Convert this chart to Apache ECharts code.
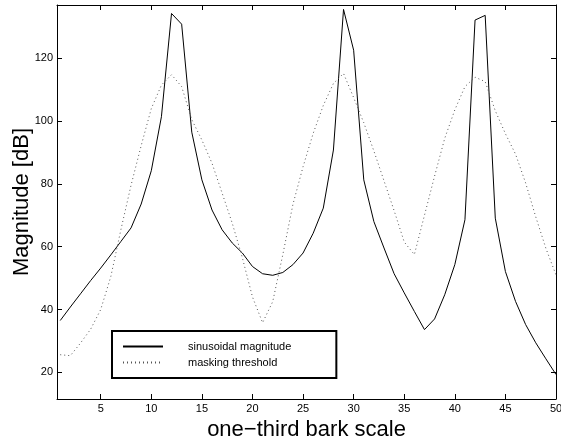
<!DOCTYPE html>
<html>
<head>
<meta charset="utf-8">
<script src="https://cdn.jsdelivr.net/npm/echarts@6/dist/echarts.min.js"></script>
<style>
html,body{margin:0;padding:0;background:#fff;}
#chart{width:561px;height:442px;}
</style>
</head>
<body>
<div id="chart"></div>
<script>
var bark = [1,2,3,4,5,6,7,8,9,10,11,12,13,14,15,16,17,18,19,20,21,22,23,24,25,26,27,28,29,30,31,32,33,34,35,36,37,38,39,40,41,42,43,44,45,46,47,48,49,50];
var sinusoidalMagnitude = [36.5,40.8,45.0,49.2,53.2,57.4,61.7,66.0,73.6,84.2,101.4,134.3,130.9,96.5,81.3,71.7,65.4,61.2,58.0,53.7,51.4,50.9,51.8,54.3,58.0,64.3,72.3,90.8,135.6,122.6,81.3,68.0,59.6,51.4,45.3,39.4,33.6,37.0,44.7,54.3,68.6,132.2,133.7,69.1,52.1,42.6,35.2,29.4,24.3,19.3];
var maskingThreshold = [25.6,25.3,29.3,33.7,40.0,50.5,65.5,79.6,92.2,104.0,111.5,114.8,111.0,100.5,94.0,86.6,77.1,67.5,56.5,44.0,35.8,42.5,57.5,73.5,85.5,96.1,105.0,112.0,115.2,107.5,99.5,90.5,81.0,71.5,61.5,57.5,70.0,82.5,94.5,103.6,111.0,114.0,112.6,103.3,96.0,89.5,80.3,69.5,59.5,51.0];
var xTicks = [5,10,15,20,25,30,35,40,45,50];
var yTicks = [20,40,60,80,100,120];
var seriesNames = ['sinusoidal magnitude','masking threshold'];
var xTitle = 'one\u2212third bark scale';
var yTitle = 'Magnitude [dB]';

var font = 'Liberation Sans, Arial, Helvetica, sans-serif';
function zip(xs, ys){ return xs.map(function(x,i){ return [x, ys[i]]; }); }

var axisLine = {show:true, lineStyle:{color:'#000', width:1}};
function xAx(pos, labels){
  return {
    type:'value', min:0.68, max:50, position:pos, gridIndex:0,
    axisLine:axisLine,
    axisTick:{show:true, inside:true, length:5, customValues:xTicks, lineStyle:{color:'#000'}},
    axisLabel:{show:labels, customValues:xTicks, margin:4, color:'#000', fontSize:11, fontFamily:font},
    splitLine:{show:false},
    name: labels ? xTitle : '', nameLocation:'middle', nameGap:20, nameMoveOverlap:false,
    nameTextStyle:{color:'#000', fontSize:22, fontFamily:font}
  };
}
function yAx(pos, labels){
  return {
    type:'value', min:11.5, max:137, position:pos, gridIndex:0,
    axisLine:axisLine,
    axisTick:{show:true, inside:true, length:5, customValues:yTicks, lineStyle:{color:'#000'}},
    axisLabel:{show:labels, customValues:yTicks, margin:4, color:'#000', fontSize:11, fontFamily:font},
    splitLine:{show:false},
    name: labels ? yTitle : '', nameLocation:'middle', nameGap:24, nameMoveOverlap:false,
    nameTextStyle:{color:'#000', fontSize:22, fontFamily:font}
  };
}

var chart = echarts.init(document.getElementById('chart'), null, {renderer:'canvas'});
chart.setOption({
  animation:false,
  backgroundColor:'#fff',
  grid:{left:57, top:5, right:5, bottom:43, containLabel:false, outerBoundsMode:'none'},
  xAxis:[xAx('bottom', true), xAx('top', false)],
  yAxis:[yAx('left', true), yAx('right', false)],
  legend:{
    data:seriesNames, orient:'vertical', left:112, top:331,
    padding:[10,45,10,10], itemGap:5, itemWidth:40, itemHeight:10,
    backgroundColor:'#fff', borderColor:'#000', borderWidth:2, borderRadius:0,
    itemStyle:{opacity:0},
    textStyle:{color:'#000', fontSize:11, fontFamily:font, padding:[0,0,0,20]},
    selectedMode:false
  },
  series:[
    {name:seriesNames[0], type:'line', xAxisIndex:0, yAxisIndex:0, data:zip(bark, sinusoidalMagnitude),
     symbol:'none', lineStyle:{color:'#000', width:1}, itemStyle:{color:'#000'}},
    {name:seriesNames[1], type:'line', xAxisIndex:0, yAxisIndex:0, data:zip(bark, maskingThreshold),
     symbol:'none', lineStyle:{color:'#555', width:1, type:[1,3]}, itemStyle:{color:'#555'}}
  ]
});
</script>
</body>
</html>
